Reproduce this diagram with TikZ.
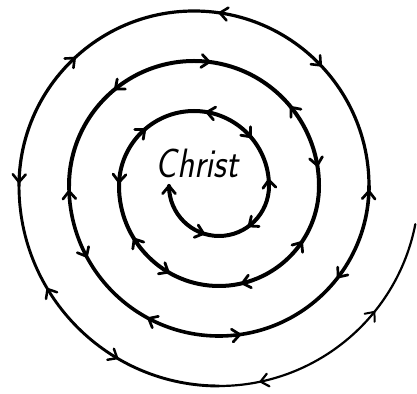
\documentclass[tikz,border=0pt]{standalone}
\begin{document}
\begin{tikzpicture}[x=1pt, y=1pt, line cap=round,
  spiral/.style={line width=4pt},
  chev/.style={line width=2.8pt, line join=miter}]
\useasboundingbox (0,0) rectangle (417,393);
\coordinate (A) at (194,207); \coordinate (B) at (219,207);
% spiral, half turns round A (top) and B (bottom)
\draw[spiral] (B) ++(180:50) arc (180:360:50) arc (0:180:75) arc (180:360:100)
  arc (0:180:125);
\draw[line width=3.6pt] (B) ++(180:150) arc (180:360:150);
\draw[line width=3.2pt] (A) ++(0:175) arc (0:180:175);
\draw[line width=2.9pt] (B) ++(180:200) arc (180:270:200);
\draw[line width=2.2pt] (B) ++(270:200) arc (270:349:200);
\node[anchor=base, xscale=0.86] (christ) at (197,215)
  {\fontsize{41}{41}\selectfont\sffamily\itshape Christ};
% chevrons: centre/radius/angle/sense/width
\foreach \c/\r/\a/\s/\w in {B/50/180/-1/2.8, B/50/252/1/2.8, B/50/307/-1/2.8,
  A/75/4.5/1/2.8, A/75/41/-1/2.8, A/75/80/1/2.8, A/75/131/-1/2.8, A/75/177/1/2.8,
  B/100/212/-1/2.8, B/100/239.5/1/2.8, B/100/283.5/-1/2.8, B/100/325.7/1/2.8,
  A/125/9.5/-1/2.8, A/125/39/1/2.8, A/125/83/-1/2.8, A/125/129/1/2.8,
  B/150/182/-1/2.7, B/150/208/1/2.7, B/150/242/-1/2.7, B/150/278/1/2.7,
  B/150/322.6/-1/2.7, B/150/358/1/2.7,
  A/175/43.6/-1/2.6, A/175/81.5/1/2.6, A/175/133/-1/2.6, A/175/178.7/1/2.6,
  B/200/211/-1/2.5, B/200/239.4/1/2.4, B/200/282/-1/2.2, B/200/321/1/2} {
  \pgfmathsetmacro{\t}{\a+90*\s}
  \draw[chev, line width=\w pt] (\c) ++(\a:\r) ++(\t+140:10) -- ++(\t-40:10) -- ++(\t-140:10);}
\end{tikzpicture}
\end{document}
